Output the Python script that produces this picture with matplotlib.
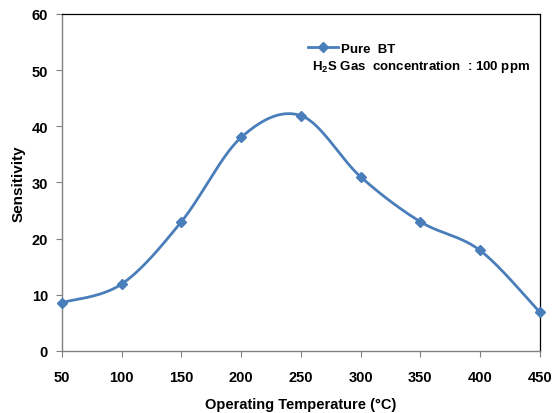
import numpy as np
import matplotlib
matplotlib.use("Agg")
import matplotlib.pyplot as plt
from matplotlib.lines import Line2D

plt.rcParams['font.family'] = ['Liberation Sans', 'DejaVu Sans']
plt.rcParams['mathtext.fontset'] = 'custom'
plt.rcParams['mathtext.rm'] = 'Liberation Sans:bold'
plt.rcParams['mathtext.bf'] = 'Liberation Sans:bold'
plt.rcParams['mathtext.default'] = 'bf'

temperature = [50, 100, 150, 200, 250, 300, 350, 400, 450]
sensitivity = [8.6, 11.9, 23.0, 38.0, 41.9, 31.0, 23.0, 17.9, 6.9]

x_ticks = [50, 100, 150, 200, 250, 300, 350, 400, 450]
y_ticks = [0, 10, 20, 30, 40, 50, 60]

color = '#4A7EBB'

AX_W, AX_H = 0.864, 0.814

fig = plt.figure(figsize=(5.53, 4.14), dpi=100)
ax = fig.add_axes([0.112, 0.150, AX_W, AX_H])
ax.set_xlim(50, 450)
ax.set_ylim(0, 60)


def smooth(xs, ys, n=40):
    """Cardinal Bezier smoothing (tension 1/6) in normalized axis space."""
    xs = np.asarray(xs, float)
    ys = np.asarray(ys, float)
    u = (xs - 50) / 400.0 * AX_W * 5.53
    v = ys / 60.0 * AX_H * 4.14
    P = np.column_stack([u, v])
    out = [P[0]]
    m = len(P)
    for i in range(m - 1):
        p0 = P[max(i - 1, 0)]
        p1 = P[i]
        p2 = P[i + 1]
        p3 = P[min(i + 2, m - 1)]
        c1 = p1 + (p2 - p0) / 6.0
        c2 = p2 - (p3 - p1) / 6.0
        t = np.linspace(0, 1, n)[1:, None]
        seg = ((1 - t) ** 3) * p1 + 3 * ((1 - t) ** 2) * t * c1 + 3 * (1 - t) * t ** 2 * c2 + t ** 3 * p2
        out.extend(seg)
    out = np.array(out)
    sx = out[:, 0] / (AX_W * 5.53) * 400.0 + 50
    sy = out[:, 1] / (AX_H * 4.14) * 60.0
    return sx, sy


sx, sy = smooth(temperature, sensitivity)
ax.plot(sx, sy, color=color, lw=2.0, solid_capstyle='round', clip_on=False, zorder=3)
ax.plot(temperature, sensitivity, ls='none', marker='D', ms=5.5, color=color,
        clip_on=False, zorder=4)

ax.set_xticks(x_ticks)
ax.set_yticks(y_ticks)
ax.tick_params(direction='out', length=4, width=0.8, color='#808080',
               labelsize=10.5, pad=6)
for lab in ax.get_xticklabels() + ax.get_yticklabels():
    lab.set_fontweight('bold')
ax.tick_params(axis='x', pad=10)

for side in ['left', 'bottom']:
    ax.spines[side].set_color('#808080')
    ax.spines[side].set_linewidth(1.0)
for side in ['top', 'right']:
    ax.spines[side].set_color('#000000')
    ax.spines[side].set_linewidth(0.9)

ax.set_xlabel('Operating Temperature (\u00b0C)', fontsize=10.5, fontweight='bold', labelpad=9)
ax.set_ylabel('Sensitivity', fontsize=11, fontweight='bold', labelpad=4)

handle = Line2D([], [], color=color, lw=2.0, marker='D', ms=5)
leg = ax.legend([handle], ['Pure  BT'], loc='center left', bbox_to_anchor=(0.516, 0.896),
                frameon=False, handlelength=2.2, handletextpad=0.25,
                borderpad=0, borderaxespad=0,
                prop={'weight': 'bold', 'size': 9.5})
ax.text(0.524, 0.846, r'H$_{2}$S Gas  concentration  : 100 ppm', transform=ax.transAxes,
        fontsize=9.5, fontweight='bold', ha='left', va='center')

fig.savefig('out.png', dpi=100)
